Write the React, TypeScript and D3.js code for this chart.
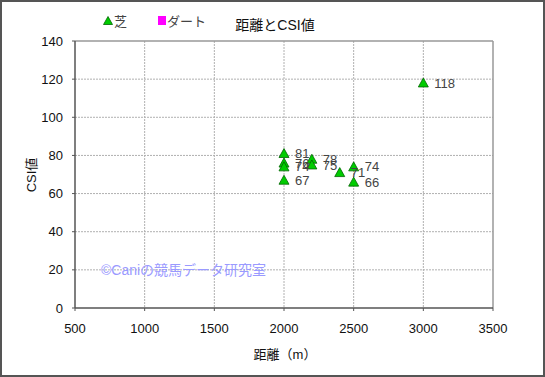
import React from "react";
import * as d3 from "d3";

const distances = [2000, 2000, 2000, 2000, 2200, 2200, 2400, 2500, 2500, 3000];
const csiValues = [81, 76, 74, 67, 78, 75, 71, 74, 66, 118];
const xTicks = [500, 1000, 1500, 2000, 2500, 3000, 3500];
const yTicks = [0, 20, 40, 60, 80, 100, 120, 140];
const legendNames = ["芝", "ダート"];
const titleText = "距離とCSI値";
const xTitle = "距離（m）";
const yTitle = "CSI値";
const watermark = "©Caniの競馬データ研究室";

export default function App() {
  const W = 545, H = 377;
  const left = 75, right = 493, top = 41, bottom = 308;
  const x = d3.scaleLinear().domain([500, 3500]).range([left, right]);
  const y = d3.scaleLinear().domain([0, 140]).range([bottom, top]);
  const font = "'Liberation Sans', Arial, 'Noto Sans CJK JP', sans-serif";
  const tri = (cx: number, cy: number, s = 5) =>
    `M${cx},${cy - s} L${cx + s},${cy + s - 1} L${cx - s},${cy + s - 1} Z`;
  return (
    <svg width={W} height={H} style={{ position: "absolute", left: 0, top: 0, background: "#fff" }} fontFamily={font}>
      <rect x={1} y={1} width={W - 2} height={H - 2} fill="#fff" stroke="#555" strokeWidth={2} />
      {xTicks.slice(1, -1).map((t) => (
        <line key={"gx" + t} x1={x(t)} x2={x(t)} y1={top} y2={bottom} stroke="#b0b0b0" strokeDasharray="2,1" strokeWidth={1} />
      ))}
      {yTicks.slice(1, -1).map((t) => (
        <line key={"gy" + t} x1={left} x2={right} y1={y(t)} y2={y(t)} stroke="#b0b0b0" strokeDasharray="2,1" strokeWidth={1} />
      ))}
      <line x1={left} x2={right} y1={top} y2={top} stroke="#999" strokeWidth={1.5} />
      <line x1={right} x2={right} y1={top} y2={bottom} stroke="#999" strokeWidth={1.5} />
      <line x1={left} x2={left} y1={top} y2={bottom} stroke="#555" strokeWidth={1.5} />
      <line x1={left} x2={right} y1={bottom} y2={bottom} stroke="#555" strokeWidth={1.5} />
      {yTicks.map((t) => (
        <line key={"ty" + t} x1={left - 3} x2={left} y1={y(t)} y2={y(t)} stroke="#555" />
      ))}
      {xTicks.map((t) => (
        <line key={"tx" + t} x1={x(t)} x2={x(t)} y1={bottom} y2={bottom + 3} stroke="#555" />
      ))}
      {yTicks.map((t) => (
        <text key={"ly" + t} x={63} y={y(t)} dy="0.35em" textAnchor="end" fontSize={13} fill="#111">{t}</text>
      ))}
      {xTicks.map((t) => (
        <text key={"lx" + t} x={x(t)} y={328} dy="0.35em" textAnchor="middle" fontSize={13} fill="#111">{t}</text>
      ))}
      <text x={275} y={25} dy="0.35em" textAnchor="middle" fontSize={14} fill="#111">{titleText}</text>
      <text x={285} y={354} dy="0.35em" textAnchor="middle" fontSize={13} fill="#111">{xTitle}</text>
      <text transform={`translate(31,${175}) rotate(-90)`} dy="0.35em" textAnchor="middle" fontSize={13} fill="#111">{yTitle}</text>
      <path d={tri(108, 21, 4.5)} fill="#00cc00" stroke="#006600" strokeWidth={0.8} />
      <text x={114} y={21} dy="0.35em" fontSize={13} fill="#444">{legendNames[0]}</text>
      <rect x={158} y={16} width={8} height={9} fill="#ff00ff" />
      <text x={167} y={21} dy="0.35em" fontSize={13} fill="#444">{legendNames[1]}</text>
      <text x={101} y={270} dy="0.35em" fontSize={14} fill="#9a9aff">{watermark}</text>
      {distances.map((d, i) => (
        <path key={"p" + i} d={tri(x(d), y(csiValues[i]))} fill="#00cc00" stroke="#006600" strokeWidth={0.8} />
      ))}
      {distances.map((d, i) => (
        <text key={"t" + i} x={x(d) + 11} y={y(csiValues[i])} dy="0.35em" fontSize={13} fill="#444">{csiValues[i]}</text>
      ))}
    </svg>
  );
}
